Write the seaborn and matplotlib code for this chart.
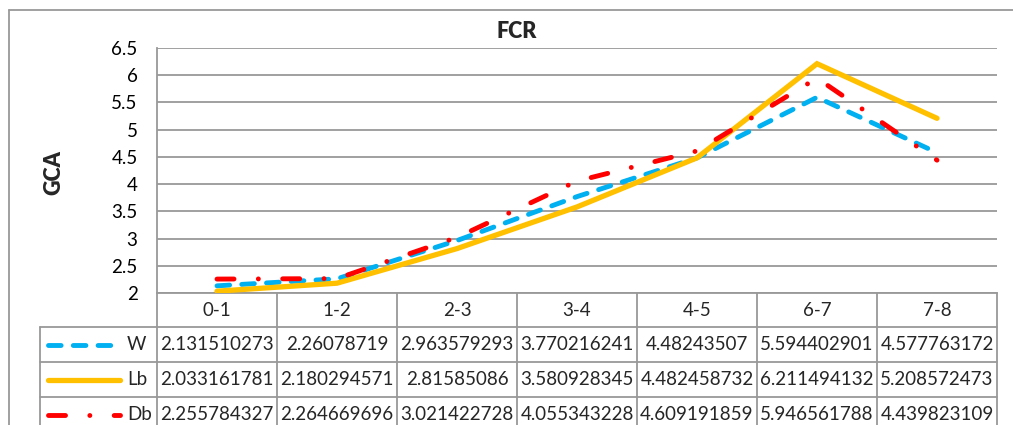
import matplotlib
matplotlib.use("Agg")
import matplotlib.pyplot as plt
import seaborn as sns
import pandas as pd
from matplotlib.lines import Line2D

categories = ["0-1", "1-2", "2-3", "3-4", "4-5", "6-7", "7-8"]
series_names = ["W", "Lb", "Db"]
w_values = [2.131510273, 2.26078719, 2.963579293, 3.770216241, 4.48243507, 5.594402901, 4.577763172]
lb_values = [2.033161781, 2.180294571, 2.81585086, 3.580928345, 4.482458732, 6.211494132, 5.208572473]
db_values = [2.255784327, 2.264669696, 3.021422728, 4.055343228, 4.609191859, 5.946561788, 4.439823109]
title = "FCR"
ylabel = "GCA"
yticks = [2, 2.5, 3, 3.5, 4, 4.5, 5, 5.5, 6, 6.5]

values = {"W": w_values, "Lb": lb_values, "Db": db_values}
rows = []
for s in series_names:
    for i, (c, v) in enumerate(zip(categories, values[s])):
        rows.append({"series": s, "xi": i, "cat": c, "val": v})
df = pd.DataFrame(rows)

W, H = 1013, 425
sns.set_style("white")
plt.rcParams["font.family"] = ["Lato", "DejaVu Sans"]

fig = plt.figure(figsize=(W / 100, H / 100), dpi=100)
fig.patch.set_facecolor("white")

L, R, T, B = 157, 997, 48, 293
ax = fig.add_axes([L / W, 1 - B / H, (R - L) / W, (B - T) / H])

palette = {"W": "#00B0F0", "Lb": "#FFC000", "Db": "#FF0000"}
dashes = {"W": (2.6, 2.5), "Lb": "", "Db": (3.5, 5.0, 0.01, 5.0)}
widths = {"W": 3.5, "Lb": 3.8, "Db": 3.5}

sns.lineplot(data=df, x="xi", y="val", hue="series", style="series",
             hue_order=series_names, style_order=series_names,
             palette=palette, dashes=dashes, legend=False, ax=ax, zorder=3)
for line, s in zip(ax.lines, series_names):
    line.set_linewidth(widths[s])
    line.set_dash_capstyle("round")
    line.set_solid_capstyle("round")
    line.set_solid_joinstyle("miter")

grid_c = "#999999"
ax.set_xlim(-0.5, len(categories) - 0.5)
ax.set_ylim(2, 6.5)
ax.set_yticks(yticks)
ax.set_yticklabels([f"{t:g}" for t in yticks])
ax.set_xticks([])
ax.grid(axis="y", color=grid_c, linewidth=1.3)
ax.set_axisbelow(True)
for sp in ["top", "right"]:
    ax.spines[sp].set_visible(False)
ax.spines["left"].set_color(grid_c)
ax.spines["bottom"].set_color(grid_c)
ax.spines["left"].set_linewidth(1.3)
ax.spines["bottom"].set_linewidth(1.3)
ax.tick_params(axis="y", length=0, pad=14, labelsize=13.5, colors="black")
ax.set_xlabel("")
ax.set_ylabel("")

fig.text(517 / W, 1 - 31 / H, title, ha="center", va="center",
         fontsize=15.5, fontweight="heavy")
fig.text(54 / W, 1 - 173 / H, ylabel, ha="center", va="center",
         rotation=90, fontsize=15.5, fontweight="heavy")

# data table
def fx(px):
    return px / W

def fy(py):
    return 1 - py / H

col_w = (R - L) / len(categories)
row_lines = [293, 327, 362, 397, 432]
tbl_left = 40

def hline(y, x0, x1):
    fig.add_artist(Line2D([fx(x0), fx(x1)], [fy(y), fy(y)], color=grid_c, lw=1.3))

def vline(x, y0, y1):
    fig.add_artist(Line2D([fx(x), fx(x)], [fy(y0), fy(y1)], color=grid_c, lw=1.3))

for y in row_lines[1:]:
    hline(y, tbl_left, R)
vline(tbl_left, row_lines[1], 440)
for k in range(len(categories) + 1):
    vline(L + k * col_w, row_lines[0], 440)

for k, c in enumerate(categories):
    fig.text(fx(L + (k + 0.5) * col_w), fy((row_lines[0] + row_lines[1]) / 2), c,
             ha="center", va="center", fontsize=13.5)

for r, s in enumerate(series_names):
    yc = (row_lines[r + 1] + row_lines[r + 2]) / 2
    ln = Line2D([fx(48), fx(120)], [fy(yc), fy(yc)], color=palette[s], lw=widths[s])
    if dashes[s]:
        ln.set_dashes(dashes[s])
    ln.set_dash_capstyle("round")
    ln.set_solid_capstyle("round")
    fig.add_artist(ln)
    fig.text(fx(127), fy(yc), s, ha="left", va="center", fontsize=13.5)
    for k, v in enumerate(values[s]):
        fig.text(fx(L + (k + 0.5) * col_w), fy(yc), str(v),
                 ha="center", va="center", fontsize=13.5)

# chart border (top and left visible)
hline(10, 9, W)
vline(9, 10, H)

fig.savefig("out.png", dpi=100, facecolor="white")
